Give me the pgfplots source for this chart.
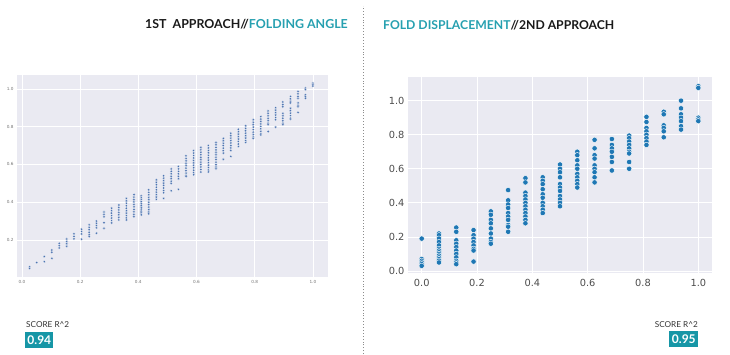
\documentclass[border=0pt]{standalone}
\usepackage{pgfplots}
\pgfplotsset{compat=1.18}
\usepackage{fontspec}
\setmainfont{Lato}
\newfontfamily\dejavu{DejaVu Sans}
\definecolor{teal1}{RGB}{38,160,176}
\definecolor{tealbox}{RGB}{22,150,166}
\definecolor{sbg}{HTML}{EAEAF2}
\definecolor{sdeep}{HTML}{4C72B0}
\definecolor{stab}{HTML}{1F77B4}
\begin{document}
\begin{tikzpicture}
\useasboundingbox (0pt,0pt) rectangle (730pt,354pt);
\pgfplotsset{sea/.style={scale only axis, axis background/.style={fill=sbg},
  axis line style={draw=none}, major tick length=0pt, grid=major,
  major grid style={white, line width=0.8pt},
  /pgf/number format/assume math mode=true, /pgf/number format/fixed,
  /pgf/number format/fixed zerofill, /pgf/number format/precision=1}}
% ---------- left chart
\begin{axis}[sea, at={(17pt,77pt)}, anchor=south west, width=311pt, height=202pt,
  xmin=-0.017, xmax=1.052, ymin=0.004, ymax=1.073,
  xtick={0,0.2,0.4,0.6,0.8,1.0}, ytick={0.2,0.4,0.6,0.8,1.0},
  ticklabel style={font=\dejavu\fontsize{4.2}{5}\selectfont, text=black!55},
  major grid style={white, line width=0.5pt}]
\addplot[only marks, mark=*, mark size=1.3pt, mark options={fill=sdeep, draw=white, line width=0.15pt}] coordinates {
(0.026,0.058)(0.026,0.050)
(0.051,0.080)
(0.077,0.112)(0.077,0.085)
(0.103,0.147)(0.103,0.135)(0.103,0.103)
(0.128,0.182)(0.128,0.170)(0.128,0.158)
(0.154,0.205)(0.154,0.192)(0.154,0.180)(0.154,0.167)
(0.179,0.232)(0.179,0.219)(0.179,0.206)
(0.205,0.257)(0.205,0.245)(0.205,0.232)(0.205,0.204)
(0.231,0.280)(0.231,0.267)(0.231,0.254)(0.231,0.241)(0.231,0.228)(0.231,0.218)
(0.256,0.300)(0.256,0.288)(0.256,0.276)(0.256,0.264)(0.256,0.236)
(0.282,0.348)(0.282,0.335)(0.282,0.322)(0.282,0.292)(0.282,0.262)
(0.308,0.368)(0.308,0.355)(0.308,0.342)(0.308,0.329)(0.308,0.316)(0.308,0.303)(0.308,0.290)
(0.333,0.385)(0.333,0.372)(0.333,0.359)(0.333,0.346)(0.333,0.333)(0.333,0.320)(0.333,0.306)
(0.359,0.420)(0.359,0.407)(0.359,0.394)(0.359,0.381)(0.359,0.368)(0.359,0.355)(0.359,0.342)(0.359,0.329)(0.359,0.316)(0.359,0.306)
(0.385,0.440)(0.385,0.427)(0.385,0.414)(0.385,0.401)(0.385,0.388)(0.385,0.375)(0.385,0.362)(0.385,0.349)(0.385,0.336)(0.385,0.324)
(0.410,0.433)(0.410,0.423)(0.410,0.413)(0.410,0.403)(0.410,0.393)(0.410,0.383)(0.410,0.373)(0.410,0.363)(0.410,0.353)(0.410,0.343)(0.410,0.333)
(0.436,0.465)(0.436,0.452)(0.436,0.439)(0.436,0.426)(0.436,0.413)(0.436,0.400)(0.436,0.387)(0.436,0.374)(0.436,0.361)(0.436,0.348)(0.436,0.338)
(0.462,0.518)(0.462,0.505)(0.462,0.492)(0.462,0.479)(0.462,0.466)(0.462,0.453)(0.462,0.440)(0.462,0.427)(0.462,0.415)
(0.487,0.540)(0.487,0.527)(0.487,0.514)(0.487,0.501)(0.487,0.488)(0.487,0.475)(0.487,0.462)(0.487,0.450)(0.487,0.420)
(0.513,0.576)(0.513,0.563)(0.513,0.550)(0.513,0.537)(0.513,0.524)(0.513,0.511)(0.513,0.500)(0.513,0.460)
(0.538,0.589)(0.538,0.576)(0.538,0.563)(0.538,0.550)(0.538,0.537)(0.538,0.524)(0.538,0.468)
(0.564,0.645)(0.564,0.632)(0.564,0.619)(0.564,0.606)(0.564,0.593)(0.564,0.580)(0.564,0.567)(0.564,0.554)(0.564,0.542)(0.564,0.536)
(0.590,0.673)(0.590,0.660)(0.590,0.647)(0.590,0.634)(0.590,0.621)(0.590,0.608)(0.590,0.595)(0.590,0.582)(0.590,0.569)(0.590,0.556)(0.590,0.545)
(0.615,0.690)(0.615,0.677)(0.615,0.664)(0.615,0.651)(0.615,0.638)(0.615,0.625)(0.615,0.612)(0.615,0.599)(0.615,0.586)(0.615,0.573)(0.615,0.560)
(0.641,0.700)(0.641,0.687)(0.641,0.674)(0.641,0.661)(0.641,0.648)(0.641,0.635)(0.641,0.622)(0.641,0.609)(0.641,0.596)(0.641,0.583)(0.641,0.570)(0.641,0.560)
(0.667,0.716)(0.667,0.703)(0.667,0.690)(0.667,0.677)(0.667,0.664)(0.667,0.651)(0.667,0.638)(0.667,0.625)(0.667,0.612)(0.667,0.599)(0.667,0.586)(0.667,0.577)
(0.692,0.738)(0.692,0.725)(0.692,0.712)(0.692,0.699)(0.692,0.686)(0.692,0.673)(0.692,0.660)(0.692,0.627)
(0.718,0.765)(0.718,0.752)(0.718,0.739)(0.718,0.726)(0.718,0.713)(0.718,0.700)(0.718,0.687)(0.718,0.674)(0.718,0.642)
(0.744,0.786)(0.744,0.773)(0.744,0.760)(0.744,0.747)(0.744,0.734)(0.744,0.721)(0.744,0.708)(0.744,0.695)
(0.769,0.804)(0.769,0.791)(0.769,0.778)(0.769,0.765)(0.769,0.752)(0.769,0.739)(0.769,0.726)(0.769,0.716)
(0.795,0.836)(0.795,0.823)(0.795,0.810)(0.795,0.797)(0.795,0.784)(0.795,0.771)(0.795,0.758)(0.795,0.745)(0.795,0.738)
(0.821,0.853)(0.821,0.840)(0.821,0.827)(0.821,0.814)(0.821,0.801)(0.821,0.788)(0.821,0.775)(0.821,0.762)(0.821,0.756)
(0.846,0.883)(0.846,0.870)(0.846,0.857)(0.846,0.844)(0.846,0.831)(0.846,0.818)(0.846,0.810)(0.846,0.774)
(0.872,0.900)(0.872,0.887)(0.872,0.874)(0.872,0.861)(0.872,0.848)(0.872,0.836)(0.872,0.797)
(0.897,0.930)(0.897,0.917)(0.897,0.905)(0.897,0.870)(0.897,0.857)(0.897,0.844)(0.897,0.831)(0.897,0.818)(0.897,0.810)
(0.923,0.960)(0.923,0.947)(0.923,0.934)(0.923,0.925)(0.923,0.897)(0.923,0.884)(0.923,0.871)(0.923,0.858)(0.923,0.845)(0.923,0.840)
(0.949,0.986)(0.949,0.973)(0.949,0.960)(0.949,0.950)(0.949,0.925)(0.949,0.913)(0.949,0.905)(0.949,0.875)
(0.974,1.004)(0.974,0.995)(0.974,0.968)(0.974,0.958)(0.974,0.950)
(1.000,1.030)(1.000,1.022)(1.000,1.015)
};
\end{axis}
% ---------- right chart
\begin{axis}[sea, at={(408pt,81pt)}, anchor=south west, width=304pt, height=196pt,
  xmin=-0.0495, xmax=1.0495, ymin=-0.012, ymax=1.139,
  xtick={0,0.2,0.4,0.6,0.8,1.0}, ytick={0,0.2,0.4,0.6,0.8,1.0},
  ticklabel style={font=\dejavu\fontsize{9.8}{11}\selectfont, text=black!70},
  xticklabel style={yshift=-3pt}]
\addplot[only marks, mark=*, mark size=2.7pt, mark options={fill=stab, draw=white, line width=0.4pt}] coordinates {
(0,0.19)(0,0.07)(0,0.06)(0,0.05)(0,0.04)(0,0.03)
(0.0625,0.22)(0.0625,0.21)(0.0625,0.19)(0.0625,0.17)(0.0625,0.15)(0.0625,0.13)(0.0625,0.12)(0.0625,0.11)(0.0625,0.10)(0.0625,0.09)(0.0625,0.08)(0.0625,0.07)(0.0625,0.06)(0.0625,0.05)
(0.125,0.255)(0.125,0.23)(0.125,0.18)(0.125,0.16)(0.125,0.14)(0.125,0.12)(0.125,0.10)(0.125,0.08)(0.125,0.06)(0.125,0.05)(0.125,0.04)
(0.1875,0.24)(0.1875,0.21)(0.1875,0.19)(0.1875,0.17)(0.1875,0.15)(0.1875,0.13)(0.1875,0.12)(0.1875,0.055)
(0.25,0.35)(0.25,0.33)(0.25,0.30)(0.25,0.28)(0.25,0.25)(0.25,0.22)(0.25,0.19)(0.25,0.17)(0.25,0.16)
(0.3125,0.475)(0.3125,0.415)(0.3125,0.39)(0.3125,0.37)(0.3125,0.34)(0.3125,0.32)(0.3125,0.30)(0.3125,0.27)(0.3125,0.26)(0.3125,0.23)
(0.375,0.545)(0.375,0.52)(0.375,0.46)(0.375,0.44)(0.375,0.42)(0.375,0.40)(0.375,0.38)(0.375,0.36)(0.375,0.34)(0.375,0.32)(0.375,0.30)(0.375,0.28)
(0.4375,0.55)(0.4375,0.53)(0.4375,0.51)(0.4375,0.48)(0.4375,0.45)(0.4375,0.43)(0.4375,0.40)(0.4375,0.38)(0.4375,0.36)(0.4375,0.34)
(0.5,0.625)(0.5,0.60)(0.5,0.58)(0.5,0.55)(0.5,0.51)(0.5,0.49)(0.5,0.47)(0.5,0.44)(0.5,0.42)(0.5,0.40)(0.5,0.38)
(0.5625,0.70)(0.5625,0.68)(0.5625,0.65)(0.5625,0.62)(0.5625,0.60)(0.5625,0.57)(0.5625,0.55)(0.5625,0.53)(0.5625,0.51)(0.5625,0.49)
(0.625,0.77)(0.625,0.72)(0.625,0.68)(0.625,0.66)(0.625,0.62)(0.625,0.60)(0.625,0.58)(0.625,0.55)(0.625,0.52)
(0.6875,0.775)(0.6875,0.74)(0.6875,0.72)(0.6875,0.70)(0.6875,0.67)(0.6875,0.64)(0.6875,0.59)
(0.75,0.795)(0.75,0.78)(0.75,0.76)(0.75,0.74)(0.75,0.72)(0.75,0.70)(0.75,0.69)(0.75,0.64)(0.75,0.60)
(0.8125,0.905)(0.8125,0.875)(0.8125,0.84)(0.8125,0.82)(0.8125,0.80)(0.8125,0.78)(0.8125,0.76)(0.8125,0.74)
(0.875,0.935)(0.875,0.92)(0.875,0.855)(0.875,0.84)(0.875,0.82)(0.875,0.785)
(0.9375,1.0)(0.9375,0.955)(0.9375,0.92)(0.9375,0.90)(0.9375,0.88)(0.9375,0.85)(0.9375,0.83)
(1,1.085)(1,1.075)(1,0.90)(1,0.89)(1,0.88)
};
\end{axis}
% ---------- titles, divider, scores
\node[anchor=base west, inner sep=0pt, font=\bfseries\fontsize{12.4}{14}\selectfont, text=black!90] at (145pt,325pt) {1ST~ APPROACH//\textcolor{teal1}{FOLDING ANGLE}};
\node[anchor=base west, inner sep=0pt, font=\bfseries\fontsize{12.2}{14}\selectfont, text=black!90] at (383pt,324pt) {\textcolor{teal1}{FOLD DISPLACEMENT}//2ND APPROACH};
\draw[black!45, line width=0.9pt, dash pattern=on 0.9pt off 2pt] (363pt,0pt) -- (363pt,348pt);
\node[anchor=base west, inner sep=0pt, font=\fontsize{8.2}{10}\selectfont, text=black!80] at (26pt,26.5pt) {SCORE R\textasciicircum 2};
\fill[tealbox] (25.3pt,5.7pt) rectangle (53.3pt,22.3pt);
\node[anchor=center, inner sep=0pt, font=\bfseries\fontsize{12}{13}\selectfont, text=white] at (39.3pt,14pt) {0.94};
\node[anchor=base east, inner sep=0pt, font=\fontsize{8.2}{10}\selectfont, text=black!80] at (698pt,27pt) {SCORE R\textasciicircum 2};
\fill[tealbox] (669.3pt,7.3pt) rectangle (698.3pt,23pt);
\node[anchor=center, inner sep=0pt, font=\bfseries\fontsize{12}{13}\selectfont, text=white] at (683.8pt,15.2pt) {0.95};
\end{tikzpicture}
\end{document}
